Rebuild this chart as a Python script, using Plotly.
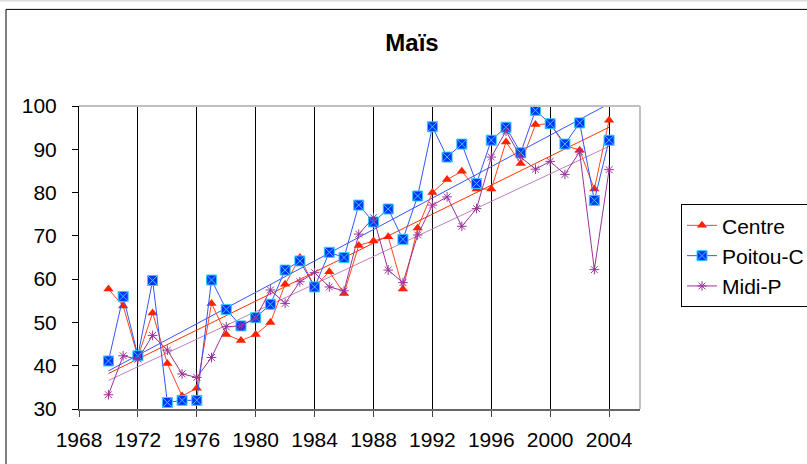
import numpy as np
import plotly.graph_objects as go

years = list(range(1970, 2005))
centre = [57.7, 53.8, 42.0, 52.2, 40.5, 33.0, 34.8, 54.4, 47.2, 45.8,
          47.2, 50.0, 58.8, 65.0, 58.2, 61.7, 56.7, 67.8, 68.8, 69.8,
          57.7, 71.8, 80.0, 83.0, 84.9, 80.8, 80.8, 91.7, 86.7, 95.7,
          95.9, 90.9, 89.8, 80.8, 96.7]
poitou = [41.1, 56.0, 42.3, 59.7, 31.5, 32.0, 32.0, 59.8, 53.0, 49.2,
          51.1, 54.2, 62.1, 64.2, 58.2, 66.2, 65.0, 77.1, 73.2, 76.2,
          69.2, 79.2, 95.2, 88.2, 91.2, 82.1, 92.1, 95.1, 89.2, 99.0,
          95.9, 91.2, 96.1, 78.2, 92.1]
midi = [33.3, 42.3, 41.5, 47.0, 43.6, 38.1, 37.3, 41.9, 49.0, 49.2,
        51.0, 57.5, 54.4, 59.4, 61.5, 58.2, 57.3, 70.4, 74.2, 62.1,
        59.2, 70.2, 77.1, 79.0, 72.2, 76.3, 88.2, 94.2, 88.2, 85.4,
        87.2, 84.2, 89.4, 62.2, 85.3]
names = ["Centre", "Poitou-C", "Midi-P"]
x_ticks = list(range(1968, 2005, 4))
y_ticks = list(range(30, 101, 10))

FONT = "Liberation Sans, Arial, sans-serif"

fig = go.Figure()

styles = [
    dict(line=dict(color="#FF4422", width=1),
         marker=dict(symbol="triangle-up", size=9, color="#FF2200",
                     line=dict(width=0))),
    dict(line=dict(color="#3355FF", width=1),
         marker=dict(symbol="square-x", size=10, color="#0033FF",
                     line=dict(color="#33CCFF", width=1))),
    dict(line=dict(color="#993399", width=1),
         marker=dict(symbol="asterisk-open", size=8, color="#993399",
                     line=dict(color="#993399", width=1))),
]
trend_colors = ["#FF3300", "#3355FF", "#C080C0"]
series = [centre, poitou, midi]

# trendlines (linear regression of each series)
for vals, tc in zip(series, trend_colors):
    a, b = np.polyfit(years, vals, 1)
    xs = [years[0], years[-1]]
    fig.add_trace(go.Scatter(x=xs, y=[a * v + b for v in xs], mode="lines",
                             line=dict(color=tc, width=1),
                             showlegend=False, hoverinfo="skip"))

for name, vals, st in zip(names, series, styles):
    fig.add_trace(go.Scatter(x=years, y=vals, mode="lines+markers", name=name,
                             line=st["line"], marker=st["marker"],
                             cliponaxis=False))

fig.update_layout(
    width=807, height=464,
    margin=dict(l=79, r=167, t=106, b=55, autoexpand=False),
    paper_bgcolor="white", plot_bgcolor="white",
    font=dict(family=FONT, size=21, color="black"),
    title=dict(text="<b>Maïs</b>", x=412 / 807, xref="container",
               xanchor="center", y=1 - 43 / 464, yanchor="middle",
               font=dict(family=FONT, size=24, color="black")),
    showlegend=True,
    legend=dict(x=(681 - 79) / 561, y=(409 - 204) / 303.3,
                xanchor="left", yanchor="top",
                bgcolor="white", bordercolor="black", borderwidth=1,
                font=dict(family=FONT, size=21, color="black"),
                tracegroupgap=0, itemwidth=30),
    xaxis=dict(range=[1968, 2006.1], tickvals=x_ticks,
               ticktext=[str(t) for t in x_ticks],
               showgrid=True, gridcolor="black", gridwidth=1,
               showline=True, linecolor="#666666", linewidth=2,
               ticks="outside", ticklen=6, tickcolor="#444444",
               tickfont=dict(size=21), zeroline=False, fixedrange=True,
               automargin=False, ticklabelstandoff=5),
    yaxis=dict(range=[30, 100], tickvals=y_ticks,
               ticktext=[str(t) for t in y_ticks],
               showgrid=False, showline=True, linecolor="black", linewidth=1,
               ticks="outside", ticklen=6, tickcolor="black",
               tickfont=dict(size=21), zeroline=False, fixedrange=True,
               ticklabelstandoff=11, automargin=False),
    shapes=[
        # plot area frame (top/right gray)
        dict(type="line", xref="paper", yref="paper", x0=0, x1=1, y0=1, y1=1,
             line=dict(color="#C0C0C0", width=2)),
        dict(type="line", xref="paper", yref="paper", x0=1, x1=1, y0=0, y1=1,
             line=dict(color="#C0C0C0", width=2)),
        # outer chart border
        dict(type="line", xref="paper", yref="paper", x0=-0.1301, x1=1.6,
             y0=1.3188, y1=1.3188, line=dict(color="black", width=1)),
        dict(type="line", xref="paper", yref="paper", x0=-0.1301, x1=-0.1301,
             y0=-0.5, y1=1.3188, line=dict(color="black", width=1)),
        dict(type="line", xref="paper", yref="paper", x0=-0.2, x1=1.6,
             y0=1.347, y1=1.347, line=dict(color="#C8C8C8", width=1)),
    ],
)

fig.write_html("out.html", config={"displayModeBar": False},
               post_script="document.body.style.margin='0';"
                           "document.body.style.overflow='hidden';")
